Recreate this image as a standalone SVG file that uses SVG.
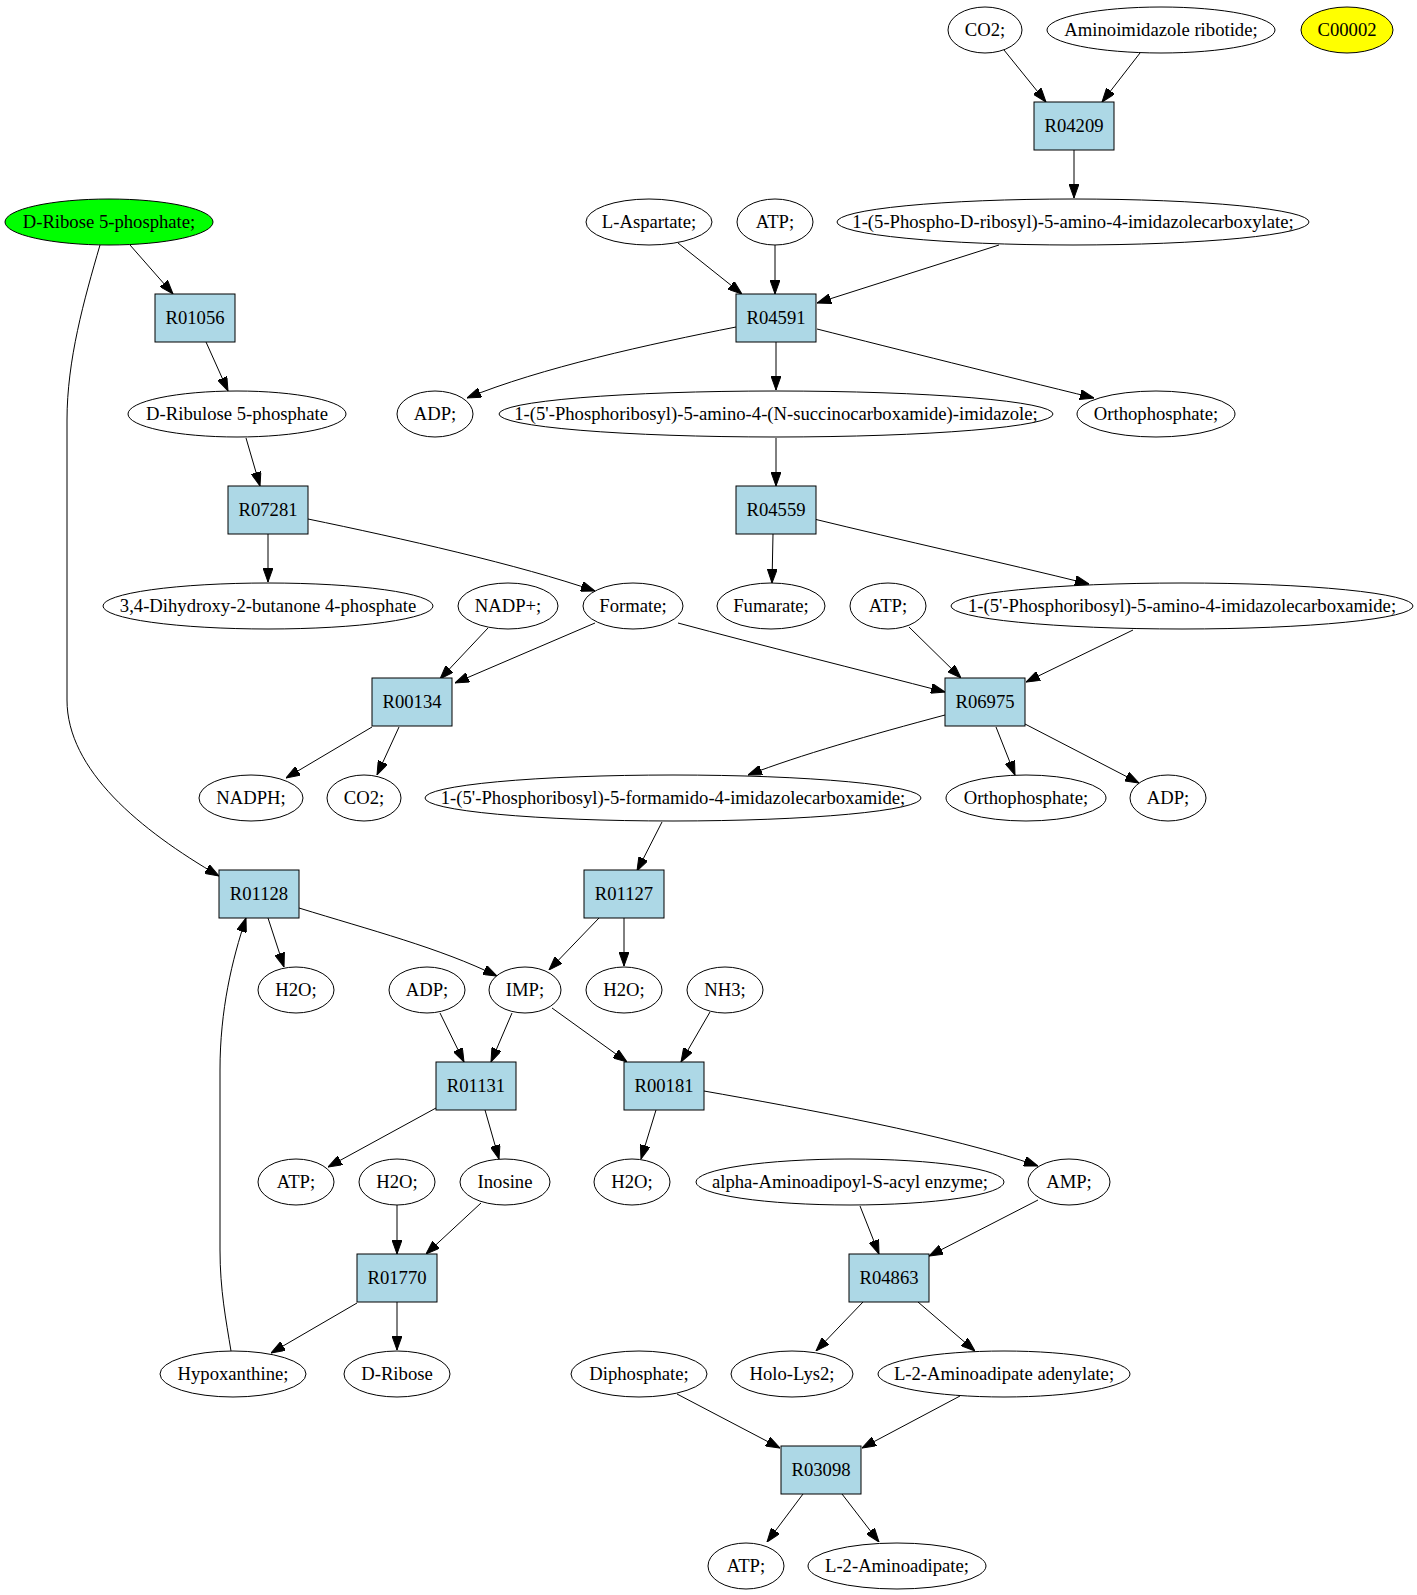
<svg xmlns="http://www.w3.org/2000/svg" width="1417" height="1595" viewBox="0 0 1417 1595">
<style>
  .n ellipse { fill: #ffffff; stroke: #000000; stroke-width: 1; }
  .n rect { fill: #add8e6; stroke: #000000; stroke-width: 1; }
  .n text { font-family: "Liberation Serif", "Times New Roman", serif; font-size: 18.67px; text-anchor: middle; fill: #000000; }
  .green ellipse { fill: #00ff00; }
  .yellow ellipse { fill: #ffff00; }
  #edges path { fill: none; stroke: #000000; stroke-width: 1; marker-end: url(#arrow); }
</style>
<defs>
  <marker id="arrow" markerUnits="userSpaceOnUse" viewBox="0 0 14 10" markerWidth="14" markerHeight="10" refX="14" refY="5" orient="auto">
    <path d="M0,0 L14,5 L0,10 z" fill="#000000" stroke="#000000" stroke-width="1"/>
  </marker>
</defs>
<rect x="0" y="0" width="1417" height="1595" fill="#ffffff"/>

<g id="edges">
  <path d="M1004,50 L1046,102"/>
  <path d="M1140,53 L1102,102"/>
  <path d="M1074,150 L1074,198"/>
  <path d="M678,243 L742,294"/>
  <path d="M775,245 L775,294"/>
  <path d="M999,245 L817,303"/>
  <path d="M130,245 L173,294"/>
  <path d="M100,245 C84,300 67,360 67,420 L67,700 C67,770 140,830 219,876"/>
  <path d="M206,342 L228,391"/>
  <path d="M736,327 C650,344 540,368 467,398"/>
  <path d="M776,342 L776,390"/>
  <path d="M817,329 C900,350 1000,375 1094,398"/>
  <path d="M246,438 L260,486"/>
  <path d="M776,438 L776,486"/>
  <path d="M268,534 L268,582"/>
  <path d="M308,519 C400,538 520,565 595,591"/>
  <path d="M773,534 L772,583"/>
  <path d="M814,519 C900,540 1000,562 1089,584"/>
  <path d="M488,628 L440,679"/>
  <path d="M595,623 L455,683"/>
  <path d="M678,623 C760,645 860,670 945,692"/>
  <path d="M909,627 L961,678"/>
  <path d="M1133,630 L1026,682"/>
  <path d="M372,727 L286,778"/>
  <path d="M399,727 L377,775"/>
  <path d="M945,715 C870,735 800,755 748,775"/>
  <path d="M996,727 L1015,775"/>
  <path d="M1025,724 L1139,783"/>
  <path d="M662,822 L637,871"/>
  <path d="M268,918 L284,967"/>
  <path d="M299,908 C370,930 440,948 497,976"/>
  <path d="M599,918 L549,970"/>
  <path d="M624,918 L624,966"/>
  <path d="M440,1013 L464,1062"/>
  <path d="M512,1013 L491,1062"/>
  <path d="M552,1008 L627,1062"/>
  <path d="M710,1012 L681,1062"/>
  <path d="M436,1108 L328,1167"/>
  <path d="M485,1110 L499,1159"/>
  <path d="M656,1110 L641,1159"/>
  <path d="M704,1091 C800,1108 950,1135 1038,1166"/>
  <path d="M397,1205 L397,1254"/>
  <path d="M481,1203 L426,1254"/>
  <path d="M860,1206 L879,1254"/>
  <path d="M1038,1200 L929,1256"/>
  <path d="M357,1303 L271,1353"/>
  <path d="M397,1302 L397,1350"/>
  <path d="M231,1351 C226,1320 220,1290 220,1250 L220,1070 C220,1010 232,960 246,918"/>
  <path d="M863,1302 L816,1351"/>
  <path d="M918,1302 L975,1351"/>
  <path d="M677,1394 L780,1448"/>
  <path d="M960,1396 L862,1448"/>
  <path d="M803,1494 L767,1542"/>
  <path d="M842,1494 L879,1542"/>
</g>

<g id="c_co2_a" class="n"><ellipse cx="985" cy="30" rx="37" ry="23"/><text x="985" y="36">CO2;</text></g>
<g id="c_air" class="n"><ellipse cx="1161" cy="30" rx="114" ry="23"/><text x="1161" y="36">Aminoimidazole ribotide;</text></g>
<g id="c00002" class="n yellow"><ellipse cx="1347" cy="30" rx="46" ry="23"/><text x="1347" y="36">C00002</text></g>
<g id="R04209" class="n"><rect x="1034" y="102" width="80" height="48"/><text x="1074" y="132">R04209</text></g>

<g id="c_drib5p" class="n green"><ellipse cx="109" cy="222" rx="104" ry="23"/><text x="109" y="228">D-Ribose 5-phosphate;</text></g>
<g id="c_asp" class="n"><ellipse cx="649" cy="222" rx="63" ry="23"/><text x="649" y="228">L-Aspartate;</text></g>
<g id="c_atp_a" class="n"><ellipse cx="775" cy="222" rx="38" ry="23"/><text x="775" y="228">ATP;</text></g>
<g id="c_caic" class="n"><ellipse cx="1073" cy="222" rx="236" ry="23"/><text x="1073" y="228">1-(5-Phospho-D-ribosyl)-5-amino-4-imidazolecarboxylate;</text></g>

<g id="R01056" class="n"><rect x="155" y="294" width="80" height="48"/><text x="195" y="324">R01056</text></g>
<g id="R04591" class="n"><rect x="736" y="294" width="80" height="48"/><text x="776" y="324">R04591</text></g>

<g id="c_ru5p" class="n"><ellipse cx="237" cy="414" rx="109" ry="23"/><text x="237" y="420">D-Ribulose 5-phosphate</text></g>
<g id="c_adp_a" class="n"><ellipse cx="435" cy="414" rx="38" ry="23"/><text x="435" y="420">ADP;</text></g>
<g id="c_saicar" class="n"><ellipse cx="776" cy="414" rx="277" ry="23"/><text x="776" y="420">1-(5'-Phosphoribosyl)-5-amino-4-(N-succinocarboxamide)-imidazole;</text></g>
<g id="c_pi_a" class="n"><ellipse cx="1156" cy="414" rx="79" ry="23"/><text x="1156" y="420">Orthophosphate;</text></g>

<g id="R07281" class="n"><rect x="228" y="486" width="80" height="48"/><text x="268" y="516">R07281</text></g>
<g id="R04559" class="n"><rect x="736" y="486" width="80" height="48"/><text x="776" y="516">R04559</text></g>

<g id="c_dhbp" class="n"><ellipse cx="268" cy="606" rx="165" ry="23"/><text x="268" y="612">3,4-Dihydroxy-2-butanone 4-phosphate</text></g>
<g id="c_nadp" class="n"><ellipse cx="508" cy="606" rx="50" ry="23"/><text x="508" y="612">NADP+;</text></g>
<g id="c_formate" class="n"><ellipse cx="633" cy="606" rx="50" ry="23"/><text x="633" y="612">Formate;</text></g>
<g id="c_fum" class="n"><ellipse cx="771" cy="606" rx="54" ry="23"/><text x="771" y="612">Fumarate;</text></g>
<g id="c_atp_b" class="n"><ellipse cx="888" cy="606" rx="38" ry="23"/><text x="888" y="612">ATP;</text></g>
<g id="c_aicar" class="n"><ellipse cx="1182" cy="606" rx="231" ry="23"/><text x="1182" y="612">1-(5'-Phosphoribosyl)-5-amino-4-imidazolecarboxamide;</text></g>

<g id="R00134" class="n"><rect x="372" y="678" width="80" height="48"/><text x="412" y="708">R00134</text></g>
<g id="R06975" class="n"><rect x="945" y="678" width="80" height="48"/><text x="985" y="708">R06975</text></g>

<g id="c_nadph" class="n"><ellipse cx="251" cy="798" rx="52" ry="23"/><text x="251" y="804">NADPH;</text></g>
<g id="c_co2_b" class="n"><ellipse cx="364" cy="798" rx="37" ry="23"/><text x="364" y="804">CO2;</text></g>
<g id="c_faicar" class="n"><ellipse cx="673" cy="798" rx="248" ry="23"/><text x="673" y="804">1-(5'-Phosphoribosyl)-5-formamido-4-imidazolecarboxamide;</text></g>
<g id="c_pi_b" class="n"><ellipse cx="1026" cy="798" rx="80" ry="23"/><text x="1026" y="804">Orthophosphate;</text></g>
<g id="c_adp_b" class="n"><ellipse cx="1168" cy="798" rx="38" ry="23"/><text x="1168" y="804">ADP;</text></g>

<g id="R01128" class="n"><rect x="219" y="870" width="80" height="48"/><text x="259" y="900">R01128</text></g>
<g id="R01127" class="n"><rect x="584" y="870" width="80" height="48"/><text x="624" y="900">R01127</text></g>

<g id="c_h2o_a" class="n"><ellipse cx="296" cy="990" rx="38" ry="23"/><text x="296" y="996">H2O;</text></g>
<g id="c_adp_c" class="n"><ellipse cx="427" cy="990" rx="38" ry="23"/><text x="427" y="996">ADP;</text></g>
<g id="c_imp" class="n"><ellipse cx="525" cy="990" rx="36" ry="23"/><text x="525" y="996">IMP;</text></g>
<g id="c_h2o_b" class="n"><ellipse cx="624" cy="990" rx="38" ry="23"/><text x="624" y="996">H2O;</text></g>
<g id="c_nh3" class="n"><ellipse cx="725" cy="990" rx="38" ry="23"/><text x="725" y="996">NH3;</text></g>

<g id="R01131" class="n"><rect x="436" y="1062" width="80" height="48"/><text x="476" y="1092">R01131</text></g>
<g id="R00181" class="n"><rect x="624" y="1062" width="80" height="48"/><text x="664" y="1092">R00181</text></g>

<g id="c_atp_c" class="n"><ellipse cx="296" cy="1182" rx="38" ry="23"/><text x="296" y="1188">ATP;</text></g>
<g id="c_h2o_c" class="n"><ellipse cx="397" cy="1182" rx="38" ry="23"/><text x="397" y="1188">H2O;</text></g>
<g id="c_ino" class="n"><ellipse cx="505" cy="1182" rx="45" ry="23"/><text x="505" y="1188">Inosine</text></g>
<g id="c_h2o_d" class="n"><ellipse cx="632" cy="1182" rx="38" ry="23"/><text x="632" y="1188">H2O;</text></g>
<g id="c_aaa" class="n"><ellipse cx="850" cy="1182" rx="154" ry="23"/><text x="850" y="1188">alpha-Aminoadipoyl-S-acyl enzyme;</text></g>
<g id="c_amp" class="n"><ellipse cx="1069" cy="1182" rx="41" ry="23"/><text x="1069" y="1188">AMP;</text></g>

<g id="R01770" class="n"><rect x="357" y="1254" width="80" height="48"/><text x="397" y="1284">R01770</text></g>
<g id="R04863" class="n"><rect x="849" y="1254" width="80" height="48"/><text x="889" y="1284">R04863</text></g>

<g id="c_hx" class="n"><ellipse cx="233" cy="1374" rx="73" ry="23"/><text x="233" y="1380">Hypoxanthine;</text></g>
<g id="c_drib" class="n"><ellipse cx="397" cy="1374" rx="53" ry="23"/><text x="397" y="1380">D-Ribose</text></g>
<g id="c_ppi" class="n"><ellipse cx="639" cy="1374" rx="68" ry="23"/><text x="639" y="1380">Diphosphate;</text></g>
<g id="c_holo" class="n"><ellipse cx="792" cy="1374" rx="61" ry="23"/><text x="792" y="1380">Holo-Lys2;</text></g>
<g id="c_l2aa_ad" class="n"><ellipse cx="1004" cy="1374" rx="126" ry="23"/><text x="1004" y="1380">L-2-Aminoadipate adenylate;</text></g>

<g id="R03098" class="n"><rect x="781" y="1446" width="80" height="48"/><text x="821" y="1476">R03098</text></g>

<g id="c_atp_d" class="n"><ellipse cx="746" cy="1566" rx="38" ry="23"/><text x="746" y="1572">ATP;</text></g>
<g id="c_l2aa" class="n"><ellipse cx="897" cy="1566" rx="89" ry="23"/><text x="897" y="1572">L-2-Aminoadipate;</text></g>
</svg>
